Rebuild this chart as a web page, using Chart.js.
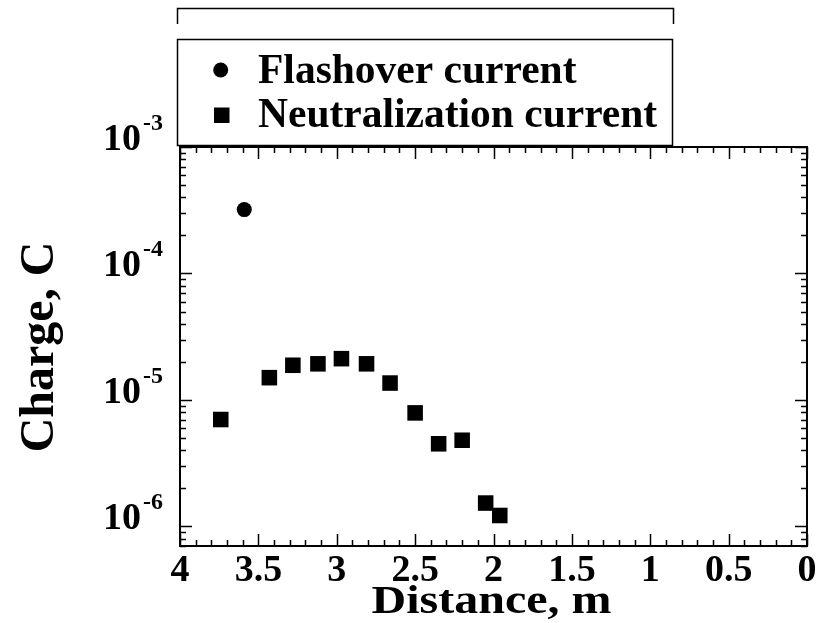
<!DOCTYPE html>
<html><head><meta charset="utf-8">
<script src="https://cdn.jsdelivr.net/npm/chart.js@4.4.0/dist/chart.umd.min.js"></script>
<style>html,body{margin:0;padding:0;background:#fff;} #wrap{width:826px;height:623px;}</style>
</head><body><div id="wrap"><canvas id="c" width="826" height="623"></canvas></div>
<script>
const seriesNames = ['Flashover current', 'Neutralization current'];
const flashoverDistance = [3.59];
const flashoverCharge = [3.2e-4];
const neutralizationDistance = [3.74, 3.43, 3.28, 3.12, 2.97, 2.81, 2.66, 2.50, 2.35, 2.20, 2.05, 1.96];
const neutralizationCharge = [7.0e-6, 1.50e-5, 1.88e-5, 1.93e-5, 2.12e-5, 1.93e-5, 1.36e-5, 7.9e-6, 4.5e-6, 4.8e-6, 1.53e-6, 1.22e-6];
const xTickValues = [4, 3.5, 3, 2.5, 2, 1.5, 1, 0.5, 0];
const xTickLabels = ['4', '3.5', '3', '2.5', '2', '1.5', '1', '0.5', '0'];
const yDecadeExponents = [-6, -5, -4, -3];
const xAxisTitle = 'Distance, m';
const yAxisTitle = 'Charge, C';

const FONT = '"Liberation Serif", "Times New Roman", serif';

function toPoints(xs, ys) { return xs.map((x, i) => ({ x: x, y: ys[i] })); }

const framePlugin = {
  id: 'framePlugin',
  afterDraw(chart) {
    const ctx = chart.ctx;
    const a = chart.chartArea;
    const xs = chart.scales.x, ys = chart.scales.y;
    ctx.save();
    ctx.strokeStyle = '#000';
    ctx.fillStyle = '#000';
    // frame
    ctx.lineWidth = 2;
    ctx.strokeRect(a.left, a.top, a.right - a.left, a.bottom - a.top);
    // x ticks (inward, top and bottom)
    ctx.lineWidth = 1.5;
    ctx.beginPath();
    for (let i = 0; i <= 40; i++) {
      const v = i / 10;
      const px = Math.round(xs.getPixelForValue(v)) + 0.5;
      const len = (i % 5 === 0) ? 12 : 6;
      ctx.moveTo(px, a.bottom); ctx.lineTo(px, a.bottom - len);
      ctx.moveTo(px, a.top); ctx.lineTo(px, a.top + len);
    }
    // y ticks (inward, left and right)
    for (let e = -7; e <= -3; e++) {
      for (let m = 1; m <= 9; m++) {
        const v = m * Math.pow(10, e);
        if (v < ys.min * 0.999 || v > ys.max * 1.001) continue;
        const py = Math.round(ys.getPixelForValue(v)) + 0.5;
        const len = (m === 1) ? 12 : 6;
        ctx.moveTo(a.left, py); ctx.lineTo(a.left + len, py);
        ctx.moveTo(a.right, py); ctx.lineTo(a.right - len, py);
      }
    }
    ctx.stroke();

    // x tick labels
    ctx.font = 'bold 38px ' + FONT;
    ctx.textAlign = 'center';
    ctx.textBaseline = 'alphabetic';
    xTickValues.forEach((v, i) => {
      ctx.fillText(xTickLabels[i], xs.getPixelForValue(v), a.bottom + 35);
    });

    // y tick labels 10^n
    yDecadeExponents.forEach(e => {
      const py = ys.getPixelForValue(Math.pow(10, e));
      const sup = String(e);
      const right = a.left - 17;
      ctx.textAlign = 'right';
      ctx.font = 'bold 24px ' + FONT;
      const supW = ctx.measureText(sup).width;
      ctx.fillText(sup, right, py - 17);
      ctx.font = 'bold 38px ' + FONT;
      ctx.fillText('10', right - supW - 2, py + 3);
    });

    // x axis title
    ctx.save();
    ctx.translate((a.left + a.right) / 2 - 2, 613);
    ctx.scale(1, 0.82);
    ctx.font = 'bold 48px ' + FONT;
    ctx.textAlign = 'center';
    ctx.fillText(xAxisTitle, 0, 0);
    ctx.restore();

    // y axis title
    ctx.save();
    ctx.translate(53, 347);
    ctx.rotate(-Math.PI / 2);
    ctx.font = 'bold 48px ' + FONT;
    ctx.textAlign = 'center';
    ctx.fillText(yAxisTitle, 0, 0);
    ctx.restore();

    // legend box and bracket above
    ctx.lineWidth = 1.5;
    ctx.strokeRect(177.5, 39.5, 495, 106);
    ctx.beginPath();
    ctx.moveTo(177.5, 24); ctx.lineTo(177.5, 8.5); ctx.lineTo(673.5, 8.5); ctx.lineTo(673.5, 24);
    ctx.stroke();
    // legend markers
    ctx.beginPath();
    ctx.arc(220.7, 70, 7.5, 0, Math.PI * 2);
    ctx.fill();
    ctx.fillRect(214, 107.5, 15.5, 15.5);
    // legend text
    ctx.font = 'bold 41.5px ' + FONT;
    ctx.textAlign = 'left';
    ctx.fillText(seriesNames[0], 258, 83);
    ctx.fillText(seriesNames[1], 258, 127);
    ctx.restore();
  }
};

new Chart(document.getElementById('c'), {
  type: 'scatter',
  data: {
    datasets: [
      {
        label: seriesNames[0],
        data: toPoints(flashoverDistance, flashoverCharge),
        pointStyle: 'circle',
        pointRadius: 7.5,
        pointBackgroundColor: '#000',
        pointBorderWidth: 0,
        showLine: false
      },
      {
        label: seriesNames[1],
        data: toPoints(neutralizationDistance, neutralizationCharge),
        pointStyle: 'rect',
        pointRadius: 11,
        pointBackgroundColor: '#000',
        pointBorderWidth: 0,
        showLine: false
      }
    ]
  },
  options: {
    responsive: false,
    devicePixelRatio: 1,
    animation: false,
    layout: { padding: { left: 180, right: 19, top: 147, bottom: 77 } },
    plugins: { legend: { display: false }, tooltip: { enabled: false } },
    scales: {
      x: {
        type: 'linear', reverse: true, min: 0, max: 4,
        grid: { display: false, drawTicks: false, tickLength: 0 }, border: { display: false },
        ticks: { display: false, padding: 0 }, title: { display: false }
      },
      y: {
        type: 'logarithmic', min: 7e-7, max: 1e-3,
        grid: { display: false, drawTicks: false, tickLength: 0 }, border: { display: false },
        ticks: { display: false, padding: 0 }, title: { display: false }
      }
    }
  },
  plugins: [framePlugin]
});
</script>
</body></html>
